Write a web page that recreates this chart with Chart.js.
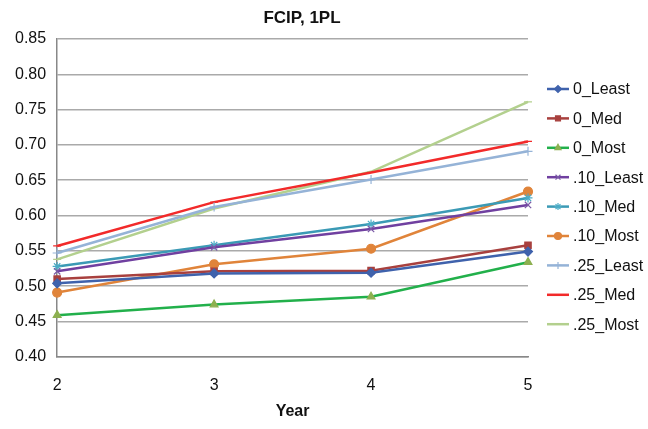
<!DOCTYPE html>
<html>
<head>
<meta charset="utf-8">
<script src="https://cdn.jsdelivr.net/npm/chart.js@4.4.1/dist/chart.umd.min.js"></script>
<style>
  html, body { margin: 0; padding: 0; background: #fff; }
  #wrap { width: 648px; height: 429px; position: relative; }
</style>
</head>
<body>
<div id="wrap"><canvas id="fcipChart"></canvas></div>
<script>
// data
const years = ["2", "3", "4", "5"];
const seriesNames = [
  "0_Least", "0_Med", "0_Most",
  ".10_Least", ".10_Med", ".10_Most",
  ".25_Least", ".25_Med", ".25_Most",
];
const least0 = [0.504, 0.518, 0.519, 0.549];
const med0 = [0.510, 0.521, 0.522, 0.558];
const most0 = [0.459, 0.474, 0.485, 0.534];
const least10 = [0.521, 0.555, 0.581, 0.615];
const med10 = [0.528, 0.558, 0.588, 0.625];
const most10 = [0.491, 0.531, 0.553, 0.634];
const least25 = [0.547, 0.612, 0.651, 0.691];
const med25 = [0.557, 0.619, 0.661, 0.705];
const most25 = [0.538, 0.610, 0.662, 0.761];
const yTicks = [0.40, 0.45, 0.50, 0.55, 0.60, 0.65, 0.70, 0.75, 0.80, 0.85];

const lineColors = ["#3F62AC", "#A8403E", "#22B04B", "#7040A0", "#3B9AB5", "#E0843A", "#95B3D7", "#F22A2A", "#B3D08E"];
const markerColors = ["#3F62AC", "#A8403E", "#8DB050", "#7B5AA6", "#4BACC6", "#E0843A", "#95B3D7", "#F22A2A", "#B3D08E"];
const markerStyles = ["rectRot", "rect", "triangle", "crossRot", "star", "circle", "cross", "line", "line"];
const allValues = [least0, med0, most0, least10, med10, most10, least25, med25, most25];

const FONT = "'Liberation Sans', Arial, sans-serif";

const datasets = seriesNames.map((name, i) => ({
  label: name,
  data: allValues[i],
  borderColor: lineColors[i],
  backgroundColor: markerColors[i],
  pointBorderColor: markerColors[i],
  pointBackgroundColor: markerColors[i],
  pointStyle: markerStyles[i],
  pointRadius: markerStyles[i] === "line" ? 4 : 4.5,
  pointBorderWidth: 1.2,
  borderWidth: 2.5,
  tension: 0,
  fill: false,
}));

// chart title and x axis title drawn by hand so they sit where the reference has them
const titles = {
  id: "titles",
  afterDraw(chart) {
    const ctx = chart.ctx;
    const area = chart.chartArea;
    ctx.save();
    ctx.fillStyle = "#111";
    ctx.textAlign = "center";
    ctx.textBaseline = "middle";
    ctx.font = "bold 17px " + FONT;
    ctx.fillText("FCIP, 1PL", 302, 18);
    ctx.font = "bold 16px " + FONT;
    ctx.fillText("Year", (area.left + area.right) / 2, 412);
    ctx.restore();
  },
};

// legend on the right: line sample with marker in the middle
const sideLegend = {
  id: "sideLegend",
  afterDraw(chart) {
    const ctx = chart.ctx;
    const x0 = 547, x1 = 569, top = 89, step = 29.4;
    ctx.save();
    chart.data.datasets.forEach((ds, i) => {
      const y = top + i * step;
      ctx.strokeStyle = ds.borderColor;
      ctx.lineWidth = 2.5;
      ctx.beginPath();
      ctx.moveTo(x0, y);
      ctx.lineTo(x1, y);
      ctx.stroke();
      ctx.fillStyle = ds.pointBackgroundColor;
      ctx.strokeStyle = ds.pointBorderColor;
      ctx.lineWidth = 1.2;
      if (Chart.helpers && Chart.helpers.drawPoint) {
        Chart.helpers.drawPoint(ctx, { pointStyle: ds.pointStyle, radius: 3.5, rotation: 0, borderWidth: 1.2 }, (x0 + x1) / 2, y);
      }
      ctx.fillStyle = "#111";
      ctx.font = "16px " + FONT;
      ctx.textBaseline = "middle";
      ctx.textAlign = "left";
      ctx.fillText(ds.label, x1 + 4, y + 1);
    });
    ctx.restore();
  },
};

new Chart(document.getElementById("fcipChart"), {
  type: "line",
  data: { labels: years, datasets: datasets },
  plugins: [titles, sideLegend],
  options: {
    responsive: true,
    maintainAspectRatio: false,
    animation: false,
    layout: { padding: { left: 4, right: 120, top: 39, bottom: 20 } },
    plugins: {
      legend: { display: false },
      tooltip: { enabled: false },
      title: { display: false },
    },
    scales: {
      x: {
        offset: false,
        grid: { display: false, drawTicks: true, tickLength: 5 },
        border: { display: true, color: "#888", width: 1.5 },
        ticks: { color: "#111", font: { family: FONT, size: 16 }, padding: 14 },
        title: { display: false },
      },
      y: {
        min: 0.4,
        max: 0.85,
        afterBuildTicks(axis) {
          axis.ticks = yTicks.map((v) => ({ value: v }));
        },
        grid: { color: "#AAAAAA", lineWidth: 1.5, drawTicks: false },
        border: { display: true, color: "#888", width: 1.5 },
        ticks: {
          color: "#111",
          font: { family: FONT, size: 16 },
          padding: 11,
          callback: (v) => Number(v).toFixed(2),
        },
      },
    },
  },
});
</script>
</body>
</html>
